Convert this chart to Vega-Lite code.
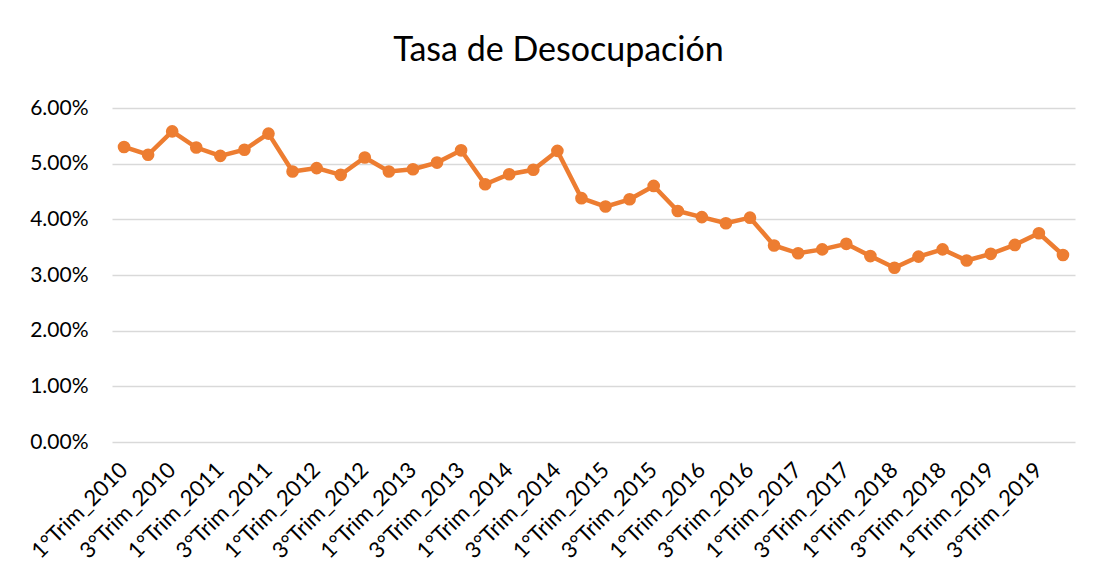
{
  "$schema": "https://vega.github.io/schema/vega-lite/v6.json",
  "autosize": "none",
  "width": 963,
  "height": 334,
  "padding": {"left": 112, "top": 108, "right": 22, "bottom": 139},
  "background": "white",
  "title": {"text": "Tasa de Desocupación", "font": "Lato", "fontSize": 34, "fontWeight": "normal", "color": "#000000", "anchor": "middle", "dx": -35, "offset": 29},
  "data": {"values": [
    {"q": "1°Trim_2010", "v": 0.0530},
    {"q": "2°Trim_2010", "v": 0.0516},
    {"q": "3°Trim_2010", "v": 0.0558},
    {"q": "4°Trim_2010", "v": 0.0529},
    {"q": "1°Trim_2011", "v": 0.0514},
    {"q": "2°Trim_2011", "v": 0.0525},
    {"q": "3°Trim_2011", "v": 0.0554},
    {"q": "4°Trim_2011", "v": 0.0486},
    {"q": "1°Trim_2012", "v": 0.0492},
    {"q": "2°Trim_2012", "v": 0.0480},
    {"q": "3°Trim_2012", "v": 0.0511},
    {"q": "4°Trim_2012", "v": 0.0486},
    {"q": "1°Trim_2013", "v": 0.0490},
    {"q": "2°Trim_2013", "v": 0.0502},
    {"q": "3°Trim_2013", "v": 0.0524},
    {"q": "4°Trim_2013", "v": 0.0463},
    {"q": "1°Trim_2014", "v": 0.0481},
    {"q": "2°Trim_2014", "v": 0.0489},
    {"q": "3°Trim_2014", "v": 0.0523},
    {"q": "4°Trim_2014", "v": 0.0438},
    {"q": "1°Trim_2015", "v": 0.0423},
    {"q": "2°Trim_2015", "v": 0.0436},
    {"q": "3°Trim_2015", "v": 0.0460},
    {"q": "4°Trim_2015", "v": 0.0415},
    {"q": "1°Trim_2016", "v": 0.0404},
    {"q": "2°Trim_2016", "v": 0.0393},
    {"q": "3°Trim_2016", "v": 0.0403},
    {"q": "4°Trim_2016", "v": 0.0353},
    {"q": "1°Trim_2017", "v": 0.0339},
    {"q": "2°Trim_2017", "v": 0.0346},
    {"q": "3°Trim_2017", "v": 0.0356},
    {"q": "4°Trim_2017", "v": 0.0334},
    {"q": "1°Trim_2018", "v": 0.0313},
    {"q": "2°Trim_2018", "v": 0.0333},
    {"q": "3°Trim_2018", "v": 0.0346},
    {"q": "4°Trim_2018", "v": 0.0326},
    {"q": "1°Trim_2019", "v": 0.0338},
    {"q": "2°Trim_2019", "v": 0.0354},
    {"q": "3°Trim_2019", "v": 0.0375},
    {"q": "4°Trim_2019", "v": 0.0336}
  ]},
  "encoding": {
    "x": {
      "field": "q", "type": "ordinal", "sort": null, "title": null,
      "scale": {"type": "band", "paddingInner": 0, "paddingOuter": 0},
      "axis": {
        "values": ["1°Trim_2010","3°Trim_2010","1°Trim_2011","3°Trim_2011","1°Trim_2012","3°Trim_2012","1°Trim_2013","3°Trim_2013","1°Trim_2014","3°Trim_2014","1°Trim_2015","3°Trim_2015","1°Trim_2016","3°Trim_2016","1°Trim_2017","3°Trim_2017","1°Trim_2018","3°Trim_2018","1°Trim_2019","3°Trim_2019"],
        "labelAngle": -45, "labelAlign": "right", "labelBaseline": "middle",
        "labelFont": "Lato", "labelFontSize": 22, "labelColor": "#000000",
        "labelPadding": 24, "labelOverlap": false,
        "domain": false, "ticks": false, "grid": false
      }
    },
    "y": {
      "field": "v", "type": "quantitative", "title": null,
      "scale": {"domain": [0, 0.06], "nice": false},
      "axis": {
        "values": [0, 0.01, 0.02, 0.03, 0.04, 0.05, 0.06],
        "format": ".2%",
        "labelFont": "Lato", "labelFontSize": 21, "labelColor": "#000000",
        "labelPadding": 24,
        "domain": false, "ticks": false,
        "grid": true, "gridColor": "#d9d9d9", "gridWidth": 1.5
      }
    }
  },
  "layer": [
    {"mark": {"type": "line", "color": "#ED7D31", "strokeWidth": 4.5}},
    {"mark": {"type": "point", "filled": true, "opacity": 1, "color": "#ED7D31", "size": 160}}
  ],
  "config": {"view": {"stroke": null}}
}
